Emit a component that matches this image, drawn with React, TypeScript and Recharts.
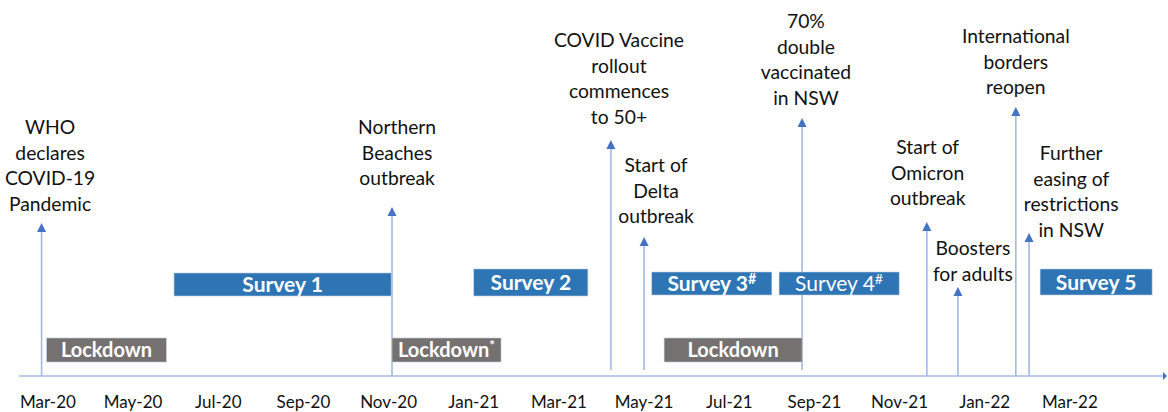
import React from 'react';
import { ComposedChart, XAxis, YAxis, ReferenceLine, ReferenceArea, ReferenceDot } from 'recharts';

// x unit: months since Mar-2020; y unit: height above timeline axis
const tickMonths = [0, 2, 4, 6, 8, 10, 12, 14, 16, 18, 20, 22, 24];
const tickLabels = ['Mar-20', 'May-20', 'Jul-20', 'Sep-20', 'Nov-20', 'Jan-21', 'Mar-21', 'May-21', 'Jul-21', 'Sep-21', 'Nov-21', 'Jan-22', 'Mar-22'];

const surveyNames = ['Survey 1', 'Survey 2', 'Survey 3', 'Survey 4', 'Survey 5'];
const surveySup = ['', '', '#', '#', ''];
const surveyBold = [true, true, true, false, true];
const surveyStart = [2.96, 10.0, 14.18, 17.17, 23.3];
const surveyEnd = [8.06, 12.68, 17.0, 19.99, 25.93];
const surveyLow = [20, 20, 20.25, 20.25, 20.25];
const surveyHigh = [25.75, 26.75, 26, 26, 26.75];

const lockdownNames = ['Lockdown', 'Lockdown', 'Lockdown'];
const lockdownSup = ['', '*', ''];
const lockdownStart = [-0.03, 8.08, 14.47];
const lockdownEnd = [2.78, 10.64, 17.71];
const lockdownLow = [3.5, 3.5, 3.5];
const lockdownHigh = [9.5, 9.5, 9.5];

const eventLines = [
  ['WHO', 'declares', 'COVID-19', 'Pandemic'],
  ['Northern', 'Beaches', 'outbreak'],
  ['COVID Vaccine', 'rollout', 'commences', 'to 50+'],
  ['Start of', 'Delta', 'outbreak'],
  ['70%', 'double', 'vaccinated', 'in NSW'],
  ['Start of', 'Omicron', 'outbreak'],
  ['Boosters', 'for adults'],
  ['International', 'borders', 'reopen'],
  ['Further', 'easing of', 'restrictions', 'in NSW'],
];
const eventMonth = [-0.15, 8.08, 13.22, 14.0, 17.71, 20.64, 21.37, 22.73, 23.04];
const eventTop = [38.25, 42.25, 59, 34.75, 64.5, 38.5, 22.25, 67.25, 35.75];
const eventBase = [0, 0, 1.5, 1.5, 1.5, 0, 0, 0, 0];
const labelMonth = [0.05, 8.2, 13.41, 14.28, 17.8, 20.66, 21.72, 22.73, 24.03];
const labelTop = [62.25, 62.25, 84, 52.75, 88.75, 57.25, 32, 85, 55.75];

const FONT = 'Lato, "Open Sans", sans-serif';
const BLUE = '#2E75B6';
const GREY = '#767171';
const LINE = '#A3B9E0';
const HEAD = '#4472C4';

const ArrowShape = (p: any) => {
  const { x1, y1, x2, y2 } = p;
  return (
    <g>
      <line x1={x1} y1={y1} x2={x2} y2={y2 + 7} stroke={LINE} strokeWidth={1.6} />
      <polygon points={`${x2},${y2} ${x2 - 4.5},${y2 + 9} ${x2 + 4.5},${y2 + 9}`} fill={HEAD} />
    </g>
  );
};

const AxisShape = (p: any) => {
  const { x1, y1, x2 } = p;
  return (
    <g>
      <line x1={x1} y1={y1} x2={x2 - 3} y2={y1} stroke={LINE} strokeWidth={1.6} />
      <polygon points={`${x2},${y1} ${x2 - 4},${y1 - 4} ${x2 - 4},${y1 + 4}`} fill={HEAD} />
    </g>
  );
};

const makeBox = (name: string, sup: string, fill: string, bold: boolean, size: number) => (p: any) => {
  const { x, y, width, height } = p;
  return (
    <g>
      <rect x={x} y={y} width={width} height={height} fill={fill} stroke="#BFC9D9" strokeWidth={0.6} />
      <text
        x={x + width / 2}
        y={y + height / 2}
        dy="0.36em"
        textAnchor="middle"
        fill="#FFFFFF"
        fontFamily={FONT}
        fontSize={size}
        fontWeight={bold ? 700 : 400}
      >
        {name}
        {sup ? (
          <tspan fontSize={size * 0.68} dy={-size * 0.36}>{sup}</tspan>
        ) : null}
      </text>
    </g>
  );
};

const makeLabel = (lines: string[]) => (p: any) => {
  const { cx, cy } = p;
  return (
    <text textAnchor="middle" fill="#111" fontFamily={FONT} fontSize={19.3}>
      {lines.map((l, i) => (
        <tspan key={i} x={cx} y={cy + i * 25.6} dy="0.36em">{l}</tspan>
      ))}
    </text>
  );
};

const Tick = (p: any) => {
  const { x, y, payload } = p;
  const idx = tickMonths.indexOf(payload.value);
  return (
    <text x={x} y={y + 26} dy="0.36em" textAnchor="middle" fill="#111" fontFamily={FONT} fontSize={17}>
      {tickLabels[idx]}
    </text>
  );
};

export default function App() {
  return (
    <div style={{ position: 'absolute', left: 0, top: 0, background: '#fff' }}>
      <ComposedChart width={1168} height={412} margin={{ top: 0, right: 1, bottom: 0, left: 19 }} data={[]}>
        <XAxis
          type="number"
          dataKey="x"
          domain={[-0.68, 26.28]}
          ticks={tickMonths}
          allowDataOverflow
          axisLine={false}
          tickLine={false}
          tickSize={0}
          tickMargin={0}
          height={36}
          tick={<Tick />}
          interval={0}
        />
        <YAxis type="number" domain={[0, 94]} hide allowDataOverflow />
        <ReferenceLine y={0} shape={AxisShape} zIndex={50} />
        {eventMonth.map((m, i) => (
          <ReferenceLine
            key={'ev' + i}
            segment={[{ x: m, y: eventBase[i] }, { x: m, y: eventTop[i] }]}
            shape={ArrowShape}
            zIndex={100}
            ifOverflow="visible"
          />
        ))}
        {surveyNames.map((n, i) => (
          <ReferenceArea
            key={'sv' + i}
            x1={surveyStart[i]}
            x2={surveyEnd[i]}
            y1={surveyLow[i]}
            y2={surveyHigh[i]}
            shape={makeBox(n, surveySup[i], BLUE, surveyBold[i], 21)}
            zIndex={300}
            ifOverflow="visible"
          />
        ))}
        {lockdownNames.map((n, i) => (
          <ReferenceArea
            key={'ld' + i}
            x1={lockdownStart[i]}
            x2={lockdownEnd[i]}
            y1={lockdownLow[i]}
            y2={lockdownHigh[i]}
            shape={makeBox(n, lockdownSup[i], GREY, true, 20)}
            zIndex={300}
            ifOverflow="visible"
          />
        ))}
        {eventLines.map((lines, i) => (
          <ReferenceDot
            key={'lb' + i}
            x={labelMonth[i]}
            y={labelTop[i]}
            r={0}
            shape={makeLabel(lines)}
            zIndex={600}
            ifOverflow="visible"
          />
        ))}
      </ComposedChart>
    </div>
  );
}
